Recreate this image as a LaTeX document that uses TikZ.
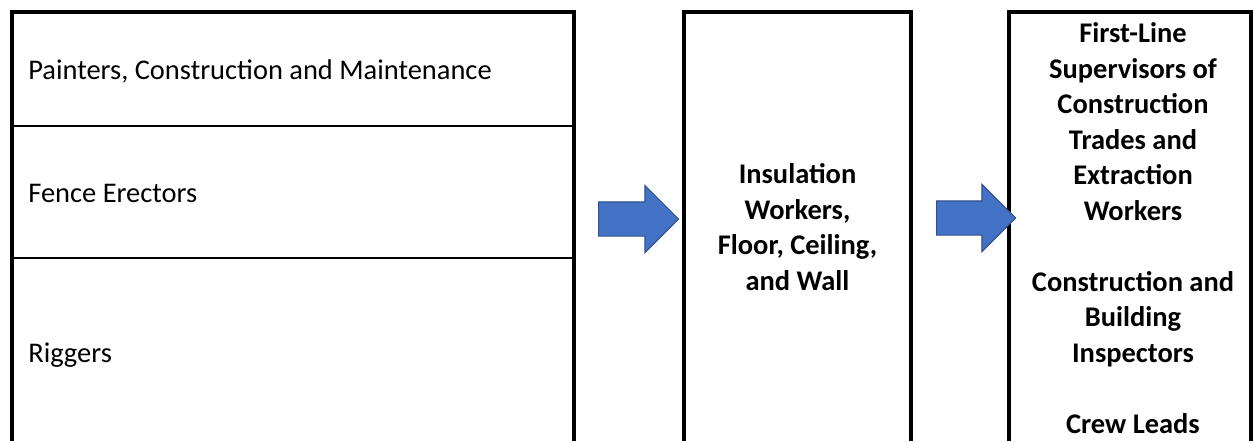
\documentclass[tikz,border=0pt]{standalone}
\usepackage{fontspec}
\setmainfont{Carlito}
\usetikzlibrary{shapes.arrows,positioning}
\definecolor{arrowblue}{HTML}{4472C4}
\definecolor{arrowedge}{HTML}{2F528F}
\tikzset{
  frame/.style={line width=2.3pt},
  rule/.style={line width=1.2pt},
  txt/.style={font=\fontsize{16.2}{20.2}\selectfont, inner sep=0pt},
  boldtxt/.style={font=\fontsize{16.2}{20.2}\selectfont\bfseries, inner sep=0pt, align=center},
  flow/.style={single arrow, draw=arrowedge, fill=arrowblue, line width=0.6pt,
               single arrow head extend=0.33cm, inner xsep=0pt, inner ysep=0.33cm,
               minimum height=1.6cm}
}

\begin{document}
\begin{tikzpicture}[x=0.02cm,y=-0.02cm]
  \useasboundingbox (0,0) rectangle (1254,441);
  % columns, open at the bottom
  \draw[frame] (12,441) |- (574,12) -- (574,441);
  \draw[frame] (684,441) |- (911,12) -- (911,441);
  \draw[frame] (1009,441) |- (1251,12) -- (1251,441);
  \draw[rule] (12,126) -- (574,126);
  \draw[rule] (12,258) -- (574,258);
  % left column entries
  \node[txt, anchor=base west] (painters) at (28,79) {Painters, Construction and Maintenance};
  \node[txt, anchor=base west] (fence) at (28,202) {Fence Erectors};
  \node[txt, anchor=base west] (riggers) at (28,362) {Riggers};
  % middle and right columns
  \node[boldtxt] (insulation) at (797.5,227) {Insulation\\Workers,\\Floor, Ceiling,\\and Wall};
  \node[boldtxt] (supervisors) at (1133,228) {First-Line\\Supervisors of\\Construction\\Trades and\\Extraction\\Workers\\[20.2pt]Construction and\\Building\\Inspectors\\[20.2pt]Crew Leads};
  % block arrows
  \node[flow] (toinsulation) at (630,219) {};
  \node[flow, minimum height=1.58cm] (tosupervisors) at (967.5,218) {};
\end{tikzpicture}
\end{document}
